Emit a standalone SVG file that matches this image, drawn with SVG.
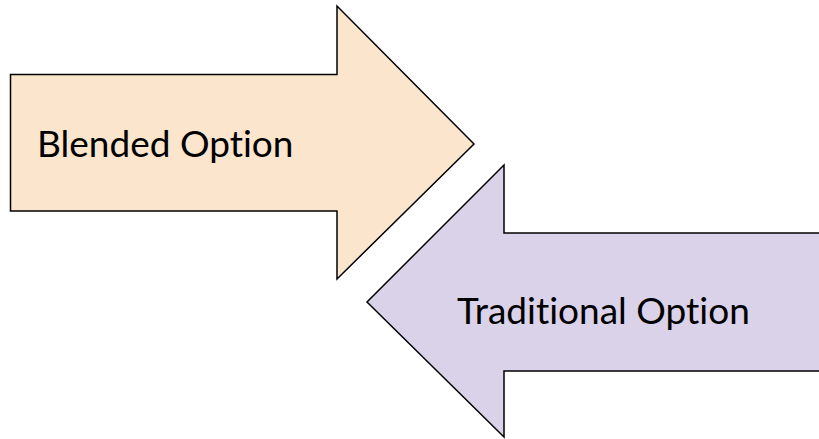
<svg xmlns="http://www.w3.org/2000/svg" width="819" height="439" viewBox="0 0 819 439">
<style>
.arrow{stroke:#000;stroke-width:1.5;stroke-linejoin:miter}
.lbl{font-family:Lato,"Liberation Sans",sans-serif;font-size:37px;fill:#000;font-variant-ligatures:none}
</style>
<rect width="819" height="439" fill="#fff"/>
<g id="blended">
<polygon class="arrow" fill="#fce5cd" points="10.5,74.5 337,74.5 337,6 474,144 337,279 337,211 10.5,211"/>
<text class="lbl" x="37" y="157">Blended Option</text>
</g>
<g id="traditional">
<polygon class="arrow" fill="#d9d2e9" points="830,233 504,233 504,165 367,302 504,437 504,371 830,371"/>
<text class="lbl" x="457" y="324">Traditional Option</text>
</g>
<g id="connectors"/>
</svg>
